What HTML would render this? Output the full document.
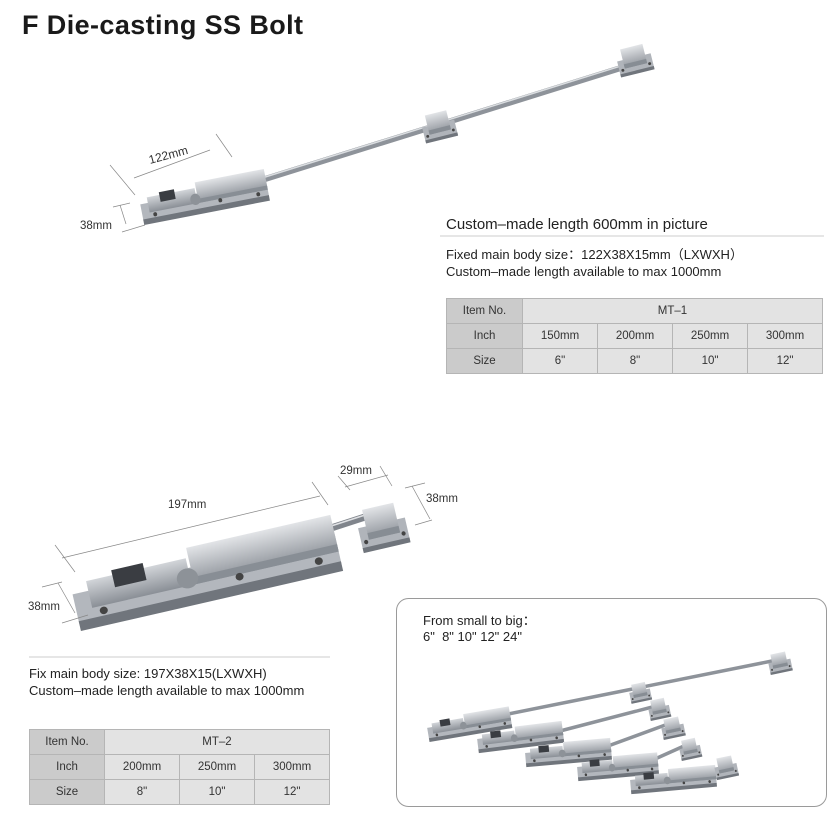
<!DOCTYPE html>
<html><head><meta charset="utf-8"><style>
*{margin:0;padding:0;box-sizing:border-box}
body{width:840px;height:831px;background:#fff;position:relative;overflow:hidden;font-family:"Liberation Sans",Arial,sans-serif;color:#222}
.t{position:absolute;white-space:nowrap}
table{position:absolute;border-collapse:collapse;font-size:11.5px;color:#333}
td{border:1px solid #b5b5b5;background:#e3e3e3;text-align:center;height:25px;padding:0}
td.h{background:#cbcbcb}
</style></head><body>
<div class="t" style="left:22px;top:10px;font-size:27px;font-weight:bold;color:#1a1a1a;letter-spacing:0.4px">F Die-casting SS Bolt</div>

<svg width="840" height="831" style="position:absolute;left:0;top:0">
<defs>
<linearGradient id="g1" x1="0" y1="0" x2="0" y2="1"><stop offset="0" stop-color="#e2e4e7"/><stop offset="1" stop-color="#8f949b"/></linearGradient>
<linearGradient id="g2" x1="0" y1="0" x2="0" y2="1"><stop offset="0" stop-color="#d2d5d9"/><stop offset="1" stop-color="#8a8f96"/></linearGradient>
<g id="body">
<rect x="0" y="1" width="100" height="12" fill="#b3b7bd"/>
<rect x="0" y="12" width="100" height="4" fill="#70757c"/>
<rect x="45" y="-7" width="55" height="15" fill="url(#g1)"/>
<rect x="45" y="5" width="55" height="3" fill="#888e95"/>
<rect x="6" y="-3" width="38" height="11" fill="url(#g2)"/>
<rect x="16" y="-5" width="12" height="7" fill="#3a3d42"/>
<circle cx="43" cy="5" r="4" fill="#8d9298"/>
<circle cx="10" cy="10" r="1.5" fill="#444"/><circle cx="92" cy="10" r="1.5" fill="#444"/><circle cx="62" cy="9" r="1.5" fill="#444"/>
</g>
<g id="keep">
<rect x="0" y="8" width="30" height="14" fill="#b0b4ba"/>
<rect x="0" y="20" width="30" height="3" fill="#70757c"/>
<rect x="5" y="-2" width="20" height="18" fill="url(#g1)"/>
<rect x="5" y="12" width="20" height="4" fill="#878d94"/>
<circle cx="3" cy="17" r="1.3" fill="#444"/><circle cx="27" cy="17" r="1.3" fill="#444"/>
</g>
</defs>

<!-- top bolt -->
<line x1="262" y1="180" x2="640" y2="62" stroke="#8e939a" stroke-width="6"/>
<line x1="262" y1="178" x2="640" y2="60" stroke="#dadde0" stroke-width="1.5"/>
<use href="#body" transform="translate(140,203) rotate(-11) scale(1.28,1.4)"/>
<use href="#keep" transform="translate(420,119) rotate(-14) scale(1.1,1.1)"/>
<use href="#keep" transform="translate(615,53) rotate(-14) scale(1.15,1.1)"/>
<g stroke="#888" stroke-width="0.7" fill="none">
<line x1="110" y1="165" x2="135" y2="195"/>
<line x1="134" y1="178" x2="210" y2="150"/>
<line x1="216" y1="134" x2="232" y2="157"/>
<line x1="113" y1="207" x2="130" y2="203"/>
<line x1="120" y1="205" x2="126" y2="224"/>
<line x1="122" y1="232" x2="145" y2="225"/>
</g>
<text x="150" y="164" font-size="12" fill="#333" transform="rotate(-15 150 164)">122mm</text>
<text x="80" y="229" font-size="11.5" fill="#333">38mm</text>

<line x1="440" y1="236" x2="824" y2="236" stroke="#ccc" stroke-width="1"/>

<!-- middle bolt -->
<line x1="325" y1="530" x2="365" y2="517" stroke="#80858c" stroke-width="7"/>
<line x1="325" y1="528" x2="365" y2="515" stroke="#dfe1e4" stroke-width="1.5"/>
<use href="#body" transform="translate(72,592) rotate(-12.9) scale(2.69,2.5)"/>
<use href="#keep" transform="translate(355,515) rotate(-13) scale(1.6,1.7)"/>
<g stroke="#888" stroke-width="0.7" fill="none">
<line x1="55" y1="545" x2="75" y2="572"/>
<line x1="62" y1="558" x2="320" y2="496"/>
<line x1="312" y1="482" x2="328" y2="505"/>
<line x1="338" y1="476" x2="350" y2="490"/>
<line x1="345" y1="487" x2="388" y2="475"/>
<line x1="380" y1="466" x2="392" y2="486"/>
<line x1="405" y1="488" x2="425" y2="483"/>
<line x1="412" y1="486" x2="430" y2="519"/>
<line x1="415" y1="525" x2="432" y2="520"/>
<line x1="42" y1="587" x2="62" y2="582"/>
<line x1="58" y1="583" x2="75" y2="613"/>
<line x1="62" y1="623" x2="88" y2="615"/>
</g>
<text x="168" y="508" font-size="11.5" fill="#333">197mm</text>
<text x="340" y="474" font-size="11.5" fill="#333">29mm</text>
<text x="426" y="502" font-size="11.5" fill="#333">38mm</text>
<text x="28" y="610" font-size="11.5" fill="#333">38mm</text>

<line x1="29" y1="657" x2="330" y2="657" stroke="#ccc" stroke-width="1"/>

<rect x="396.5" y="598.5" width="430" height="208" rx="12" fill="none" stroke="#9a9a9a" stroke-width="1"/>

<!-- small bolts -->
<g stroke="#8e939a" stroke-width="3.5">
<line x1="508" y1="714" x2="772" y2="661"/>
<line x1="560" y1="731" x2="660" y2="705"/>
<line x1="608" y1="746" x2="668" y2="724"/>
<line x1="655" y1="759" x2="684" y2="746"/>
</g>
<use href="#body" transform="translate(427,727) rotate(-9.6) scale(0.84,0.95)"/>
<use href="#keep" transform="translate(628,687) rotate(-12) scale(0.7,0.75)"/>
<use href="#keep" transform="translate(767,657) rotate(-12) scale(0.75,0.8)"/>
<use href="#body" transform="translate(477,738) rotate(-7) scale(0.86,0.95)"/>
<use href="#keep" transform="translate(647,703) rotate(-12) scale(0.7,0.8)"/>
<use href="#body" transform="translate(525,752) rotate(-5) scale(0.86,0.95)"/>
<use href="#keep" transform="translate(660,722) rotate(-12) scale(0.75,0.8)"/>
<use href="#body" transform="translate(577,766) rotate(-5) scale(0.81,0.95)"/>
<use href="#keep" transform="translate(678,743) rotate(-12) scale(0.7,0.8)"/>
<use href="#body" transform="translate(630,779) rotate(-5) scale(0.86,0.95)"/>
<use href="#keep" transform="translate(713,761) rotate(-12) scale(0.75,0.85)"/>
</svg>

<div class="t" style="left:446px;top:216px;font-size:15px;color:#222">Custom–made length 600mm in picture</div>
<div class="t" style="left:446px;top:246px;font-size:13px;line-height:17px;color:#222">Fixed main body size：122X38X15mm（LXWXH）<br>Custom–made length available to max 1000mm</div>

<table style="left:446px;top:298px;width:377px">
<tr><td class="h" style="width:76px">Item No.</td><td colspan="4">MT–1</td></tr>
<tr><td class="h">Inch</td><td>150mm</td><td>200mm</td><td>250mm</td><td>300mm</td></tr>
<tr><td class="h">Size</td><td>6"</td><td>8"</td><td>10"</td><td>12"</td></tr>
</table>

<div class="t" style="left:29px;top:665px;font-size:13px;line-height:17px;color:#222">Fix main body size: 197X38X15(LXWXH)<br>Custom–made length available to max 1000mm</div>

<table style="left:29px;top:729px;width:301px">
<tr><td class="h" style="width:75px">Item No.</td><td colspan="3">MT–2</td></tr>
<tr><td class="h">Inch</td><td>200mm</td><td>250mm</td><td>300mm</td></tr>
<tr><td class="h">Size</td><td>8"</td><td>10"</td><td>12"</td></tr>
</table>

<div class="t" style="left:423px;top:613px;font-size:13px;line-height:16px;color:#222">From small to big：<br>6"&nbsp; 8" 10" 12" 24"</div>
</body></html>
